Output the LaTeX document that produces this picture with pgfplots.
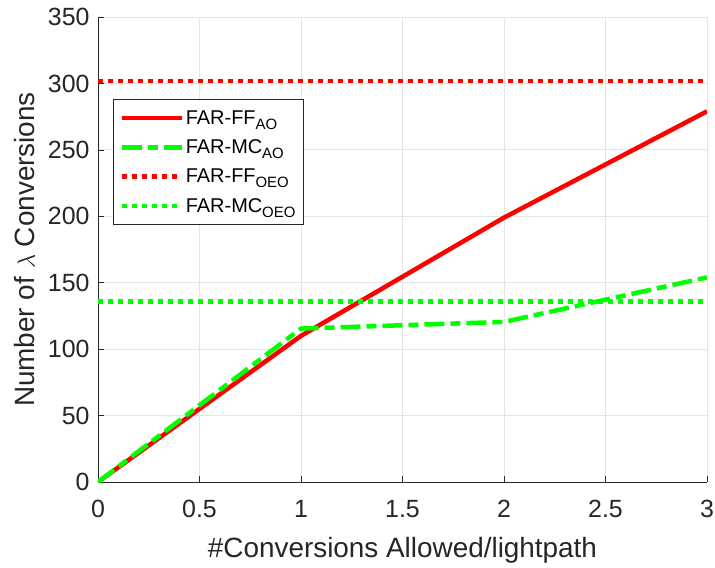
\documentclass[border=0pt]{standalone}
\usepackage{pgfplots}
\pgfplotsset{compat=1.18}
\usepackage{fontspec}
\setmainfont{Liberation Sans}
\definecolor{axgray}{gray}{0.15}
\definecolor{mygreen}{RGB}{0,255,0}
\newcommand{\sub}[1]{\raisebox{-5bp}{\fontsize{15}{16}\selectfont #1}}
\begin{document}
\begin{tikzpicture}
\path[use as bounding box] (-98bp,-86bp) rectangle (617bp,482bp);
\begin{axis}[
  at={(0,0)}, anchor=south west,
  width=609bp, height=465bp, scale only axis,
  xmin=0, xmax=3, ymin=0, ymax=350,
  xtick={0,0.5,...,3}, ytick={0,50,...,350},
  xticklabels={0,0.5,1,1.5,2,2.5,3},
  axis x line*=bottom, axis y line*=left,
  axis line style={axgray, line width=0.8bp},
  every tick/.style={axgray, line width=0.6bp},
  major tick length=6bp,
  tick align=inside,
  grid=major, grid style={gray!20, line width=0.9bp},
  /pgf/number format/assume math mode=true,
  ticklabel style={font=\fontsize{25}{28}\selectfont, text=axgray},
  xticklabel style={yshift=-15bp},
  yticklabel style={xshift=-5bp},
  label style={font=\fontsize{28}{30}\selectfont, text=axgray},
  xlabel={\#Conversions Allowed/lightpath},
  ylabel={Number of $\lambda$ Conversions},
  xlabel style={yshift=-12bp},
  ylabel style={yshift=6bp},
  legend style={at={(rel axis cs:0.0246,0.8237)}, anchor=north west,
    draw=axgray, line width=0.8bp, fill=white,
    font=\fontsize{20}{22}\selectfont, text=black,
    inner xsep=6bp, inner ysep=9bp, row sep=10bp},
  legend cell align=left,
  legend image code/.code={\draw[#1] (0bp,0bp) -- (60bp,0bp);},
]
\addplot[red, line width=4.5bp] coordinates {(0,0) (1,110) (2,199) (3,279)};
\addlegendentry{FAR-FF\sub{AO}}
\addplot[mygreen, line width=4.5bp, dash pattern=on 20bp off 6bp on 10bp off 6bp] coordinates {(0,0) (1,115.5) (2,120.5) (3,154)};
\addlegendentry{FAR-MC\sub{AO}}
\addplot[red, line width=4.5bp, dash pattern=on 5bp off 5bp] coordinates {(0,302) (3,302)};
\addlegendentry{FAR-FF\sub{OEO}}
\addplot[mygreen, line width=4.5bp, dash pattern=on 5bp off 5bp] coordinates {(0,136) (3,136)};
\addlegendentry{FAR-MC\sub{OEO}}
\end{axis}
\end{tikzpicture}
\end{document}
